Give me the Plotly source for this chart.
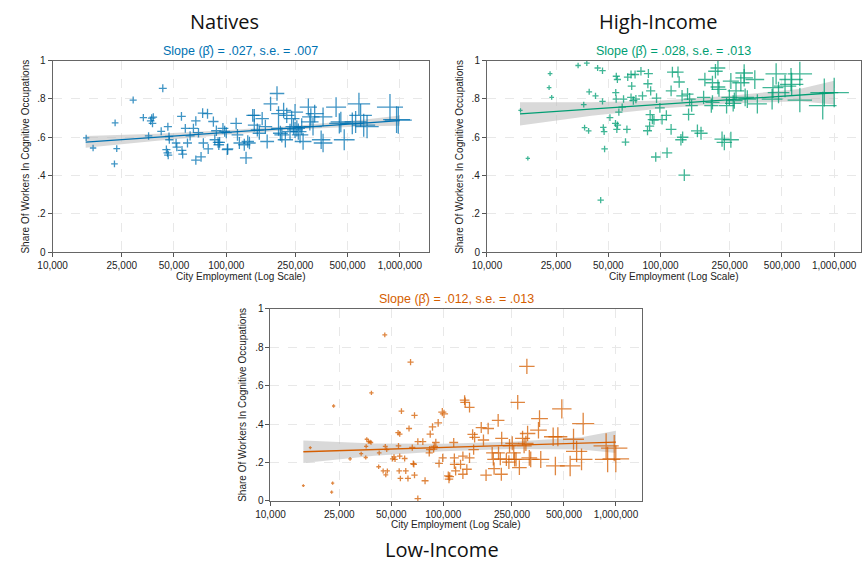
import numpy as np
import plotly.graph_objects as go

# ---------------- data (city employment in thousands, share in cognitive occupations) -------------
natives_emp_k = [15.6, 17.1, 22.9, 23.4, 22.7, 29.1, 43.1, 33.3, 35.7, 37.2, 36.7, 37.6, 38.0, 42.2,
                 46.1, 46.8, 47.0, 45.2, 45.9, 46.3, 51.4, 51.9, 55.2, 55.6, 56.1, 58.1, 59.8, 61.9,
                 64.7, 66.8, 66.8, 71.6, 69.2, 73.1, 78.0, 73.8, 78.7, 84.3, 85.9, 87.7, 89.7, 90.6,
                 91.6, 95.7, 97.9, 100, 101.4,
                 114, 102, 116, 119, 127, 133, 136, 130, 142, 145, 145, 151, 155, 161, 168, 172, 180,
                 196, 200, 200, 205, 209, 219, 214, 223, 233, 244, 249, 255, 260, 266, 249, 238, 272,
                 277, 297, 303, 307, 316, 323, 361, 361, 352, 429, 448, 457, 478, 532, 556, 581, 594,
                 619, 647, 877, 957, 979]
natives_share = [0.597, 0.544, 0.675, 0.541, 0.461, 0.794, 0.855, 0.702, 0.607, 0.700, 0.685, 0.672,
                 0.705, 0.631, 0.655, 0.604, 0.587, 0.536, 0.519, 0.507, 0.570, 0.549, 0.709, 0.532,
                 0.512, 0.646, 0.570, 0.607, 0.646, 0.685, 0.481, 0.498, 0.624, 0.726, 0.723, 0.570,
                 0.539, 0.682, 0.587, 0.634, 0.573, 0.561, 0.573, 0.646, 0.631, 0.624, 0.536,
                 0.672, 0.539, 0.612, 0.570, 0.561, 0.578, 0.570, 0.493, 0.714, 0.714, 0.663, 0.638,
                 0.621, 0.697, 0.655, 0.578, 0.774, 0.828, 0.723, 0.646, 0.621, 0.612, 0.587, 0.740,
                 0.714, 0.629, 0.655, 0.638, 0.646, 0.629, 0.612, 0.731, 0.697, 0.655, 0.578, 0.757,
                 0.680, 0.706, 0.655, 0.723, 0.706, 0.570, 0.587, 0.757, 0.672, 0.680, 0.587, 0.672,
                 0.680, 0.774, 0.714, 0.663, 0.655, 0.757, 0.692, 0.689]

high_emp_k = [15.6, 17.2, 23.1, 22.8, 23.6, 33.5, 37.6, 36.1, 36.5, 38.5, 38.8, 42.2, 43.4, 46.3,
              46.3, 46.8, 47.3, 47.6, 45.2, 51.1, 55.2, 55.5, 55.6, 56.4, 55.0, 56.5, 56.0, 57.5,
              60.1, 61.2, 62.8, 64.0, 64.7, 67.6, 71.3, 68.2, 67.6, 69.7, 72.1, 77.1, 78.7, 85.1,
              84.5, 87.7, 87.1, 89.7, 91.6, 84.1, 86.5, 93.8, 94.8, 99.1, 102, 108, 109, 115, 115,
              117, 126, 128, 131, 134, 133, 137, 143, 145, 147, 151, 163, 171, 177, 180, 199, 196,
              199, 207, 214, 214, 217, 226, 233, 240, 249, 254, 254, 262, 266, 272, 290, 303, 303,
              307, 316, 349, 361, 439, 444, 463, 478, 521, 569, 564, 634, 634, 859, 877, 1000]
high_share = [0.740, 0.490, 0.932, 0.859, 0.808, 0.974, 0.986, 0.770, 0.650, 0.633, 0.837, 0.816,
              0.961, 0.947, 0.787, 0.651, 0.629, 0.539, 0.272, 0.702, 0.833, 0.799, 0.918, 0.901,
              0.672, 0.663, 0.641, 0.731, 0.757, 0.799, 0.575, 0.641, 0.913, 0.927, 0.927, 0.867,
              0.808, 0.791, 0.799, 0.944, 0.816, 0.932, 0.879, 0.842, 0.718, 0.692, 0.689, 0.634,
              0.658, 0.497, 0.804, 0.753, 0.692, 0.714, 0.519, 0.842, 0.641, 0.940, 0.940, 0.888,
              0.587, 0.600, 0.816, 0.403, 0.825, 0.719, 0.799, 0.765, 0.633, 0.621, 0.808, 0.901,
              0.884, 0.765, 0.782, 0.944, 0.961, 0.862, 0.850, 0.590, 0.573, 0.765, 0.808, 0.893,
              0.587, 0.777, 0.791, 0.842, 0.884, 0.935, 0.910, 0.808, 0.799, 0.901, 0.774, 0.799,
              0.859, 0.930, 0.833, 0.867, 0.876, 0.901, 0.930, 0.794, 0.765, 0.833, 0.833]

low_emp_k = [15.5, 17.0, 22.6, 22.9, 23.2, 28.9, 33.5, 35.8, 36.1, 36.9, 37.7, 38.2, 35.6, 38.4,
             42.6, 42.3, 44.9, 46.5, 45.9, 47.1, 46.2, 47.5, 50.9, 51.9, 52.6, 54.8, 56.0, 55.1,
             56.0, 55.6, 56.5, 57.3, 59.8, 60.7, 62.5, 63.4, 64.7, 66.2, 67.1, 67.6, 68.2, 68.2,
             71.3, 76.2, 78.5, 71.3, 83.0, 83.4, 84.1, 86.7, 88.0, 88.7, 90.6, 93.5, 94.6, 98.8,
             101, 99.3, 107, 108, 109, 115, 116, 116, 118, 126, 130, 130, 133, 134, 137, 142, 142,
             148, 150, 152, 166, 171, 177, 182, 192, 195, 197, 208, 209, 214, 217, 218, 232, 240,
             242, 251, 256, 259, 264, 270, 276, 288, 294, 301, 308, 305, 315, 321, 356, 361, 367,
             433, 446, 461, 486, 543, 568, 592, 646, 632, 877, 895, 977, 998]
low_share = [0.080, 0.277, 0.046, 0.093, 0.494, 0.219, 0.246, 0.284, 0.321, 0.309, 0.307, 0.304,
             0.226, 0.562, 0.250, 0.178, 0.156, 0.136, 0.864, 0.267, 0.284, 0.156, 0.219, 0.229,
             0.216, 0.355, 0.348, 0.287, 0.233, 0.156, 0.117, 0.467, 0.221, 0.156, 0.117, 0.377,
             0.722, 0.278, 0.194, 0.190, 0.445, 0.134, 0.309, 0.309, 0.105, 0.012, 0.250, 0.267,
             0.348, 0.385, 0.270, 0.284, 0.304, 0.406, 0.195, 0.462, 0.453, 0.224, 0.131, 0.114,
             0.127, 0.304, 0.224, 0.190, 0.156, 0.190, 0.233, 0.139, 0.525, 0.513, 0.165, 0.224,
             0.487, 0.346, 0.267, 0.331, 0.382, 0.317, 0.134, 0.377, 0.250, 0.216, 0.168, 0.419,
             0.250, 0.219, 0.139, 0.326, 0.216, 0.202, 0.287, 0.300, 0.250, 0.216, 0.216, 0.513,
             0.173, 0.326, 0.287, 0.300, 0.351, 0.700, 0.224, 0.216, 0.368, 0.428, 0.216, 0.334,
             0.182, 0.334, 0.479, 0.182, 0.321, 0.258, 0.402, 0.216, 0.287, 0.216, 0.275, 0.219]

# fitted line and 95% CI
fit_emp_k = [15.5, 40, 100, 250, 630, 1000]
natives_fit = [0.575, 0.600, 0.625, 0.650, 0.675, 0.687]
natives_lo = [0.545, 0.582, 0.613, 0.640, 0.658, 0.660]
natives_hi = [0.607, 0.618, 0.637, 0.660, 0.692, 0.714]
high_fit = [0.722, 0.747, 0.771, 0.796, 0.820, 0.832]
high_lo = [0.661, 0.712, 0.750, 0.776, 0.788, 0.771]
high_hi = [0.783, 0.782, 0.792, 0.816, 0.852, 0.895]
low_fit = [0.256, 0.267, 0.278, 0.289, 0.300, 0.306]
low_lo = [0.198, 0.235, 0.259, 0.270, 0.268, 0.249]
low_hi = [0.314, 0.299, 0.297, 0.308, 0.332, 0.365]

panel_titles = ["Natives", "High-Income", "Low-Income"]
slope_texts = ["Slope (\u03b2\u0302) = .027, s.e. = .007",
               "Slope (\u03b2\u0302) = .028, s.e. = .013",
               "Slope (\u03b2\u0302) = .012, s.e. = .013"]
x_tickvals = [10000, 25000, 50000, 100000, 250000, 500000, 1000000]
x_ticktext = ["10,000", "25,000", "50,000", "100,000", "250,000", "500,000", "1,000,000"]
y_tickvals = [0, 0.2, 0.4, 0.6, 0.8, 1]
y_ticktext = ["0", ".2", ".4", ".6", ".8", "1"]
x_title = "City Employment (Log Scale)"
y_title = "Share Of Workers In Cognitive Occupations"

# ---------------- layout geometry -------------
W, H = 862, 565
SANS = "Liberation Sans, Arial, Helvetica, sans-serif"
TFONT = "Open Sans, Noto Sans, sans-serif"

def fx(px):
    return px / W

def fy(py):
    return 1 - py / H

panels = [
    dict(emp=natives_emp_k, share=natives_share, fit=natives_fit, lo=natives_lo, hi=natives_hi,
         color="#0072B2", x0=38.3, x1=421.7, y0=55.7, y1=251.7, dec=176.7, base=4.5, k=15,
         title_xy=(213, 16)),
    dict(emp=high_emp_k, share=high_share, fit=high_fit, lo=high_lo, hi=high_hi,
         color="#009E73", x0=480.3, x1=861, y0=55.7, y1=251.7, dec=176.7, base=3, k=18,
         title_xy=(655, 16)),
    dict(emp=low_emp_k, share=low_share, fit=low_fit, lo=low_lo, hi=low_hi,
         color="#D55E00", x0=260, x1=638, y0=309.3, y1=505.7, dec=175.8, base=2, k=17,
         title_xy=(435, 555)),
]

fig = go.Figure()
annotations = []
layout_axes = {}

for i, p in enumerate(panels):
    n = "" if i == 0 else str(i + 1)
    xa, ya = "x" + n, "y" + n
    emp = np.array(p["emp"]) * 1000
    share = np.array(p["share"])
    femp = np.array(fit_emp_k) * 1000
    lg = np.log10(emp)
    t = np.clip((lg - 4.1) / 1.9, 0, 1.1)
    sizes = p["base"] + p["k"] * t ** 2

    # CI band
    fig.add_trace(go.Scatter(
        x=list(femp) + list(femp[::-1]),
        y=list(p["hi"]) + list(p["lo"][::-1]),
        fill="toself", fillcolor="rgba(185,185,185,0.55)", line=dict(width=0),
        mode="lines", hoverinfo="skip", showlegend=False, xaxis=xa, yaxis=ya))
    # points
    fig.add_trace(go.Scatter(
        x=emp, y=share, mode="markers", showlegend=False, xaxis=xa, yaxis=ya,
        marker=dict(symbol="cross-thin", size=sizes, opacity=0.75,
                    line=dict(width=1.3, color=p["color"]), color=p["color"])))
    # fit line
    fig.add_trace(go.Scatter(
        x=femp, y=p["fit"], mode="lines", showlegend=False, xaxis=xa, yaxis=ya,
        line=dict(color=p["color"], width=1.3)))

    xr = [4, 4 + (p["x1"] - p["x0"]) / p["dec"]]
    layout_axes["xaxis" + n] = dict(
        type="log", range=xr, domain=[fx(p["x0"]), fx(p["x1"])], anchor=ya,
        tickvals=x_tickvals, ticktext=x_ticktext, ticks="outside", ticklen=4, tickwidth=1,
        tickcolor="#555", showline=True, linecolor="#666", linewidth=1, mirror=True,
        showgrid=True, gridcolor="#e8e8e8", griddash="dash", gridwidth=1, zeroline=False,
        tickfont=dict(family=SANS, size=10, color="#222"))
    layout_axes["yaxis" + n] = dict(
        range=[0, 1], domain=[fy(p["y1"]), fy(p["y0"])], anchor=xa,
        tickvals=y_tickvals, ticktext=y_ticktext, ticks="outside", ticklen=4, tickwidth=1,
        tickcolor="#555", showline=True, linecolor="#666", linewidth=1, mirror=True,
        showgrid=True, gridcolor="#e8e8e8", griddash="dash", gridwidth=1, zeroline=False,
        tickfont=dict(family=SANS, size=10, color="#222"))

    cx = (p["x0"] + p["x1"]) / 2
    annotations.append(dict(x=fx(cx), y=fy(p["y0"] - 10), xref="paper", yref="paper",
                            text=slope_texts[i], showarrow=False, xanchor="center", yanchor="middle",
                            font=dict(family=SANS, size=12.5, color=p["color"])))
    annotations.append(dict(x=fx(cx), y=fy(p["y1"] + 24.5), xref="paper", yref="paper",
                            text=x_title, showarrow=False, xanchor="center", yanchor="middle",
                            font=dict(family=SANS, size=10, color="#222")))
    annotations.append(dict(x=fx(p["x0"] - 28), y=fy((p["y0"] + p["y1"]) / 2), xref="paper",
                            yref="paper", text=y_title, showarrow=False, textangle=-90,
                            xanchor="center", yanchor="middle",
                            font=dict(family=SANS, size=10, color="#222")))
    tx, ty = p["title_xy"]
    annotations.append(dict(x=fx(tx), y=fy(ty), xref="paper", yref="paper",
                            text=panel_titles[i], showarrow=False, xanchor="center",
                            yanchor="middle", font=dict(family=TFONT, size=20, color="#111")))

fig.update_layout(
    width=W, height=H, margin=dict(l=0, r=0, t=0, b=0),
    paper_bgcolor="white", plot_bgcolor="white", showlegend=False,
    annotations=annotations, **layout_axes)

fig.write_html("out.html")
